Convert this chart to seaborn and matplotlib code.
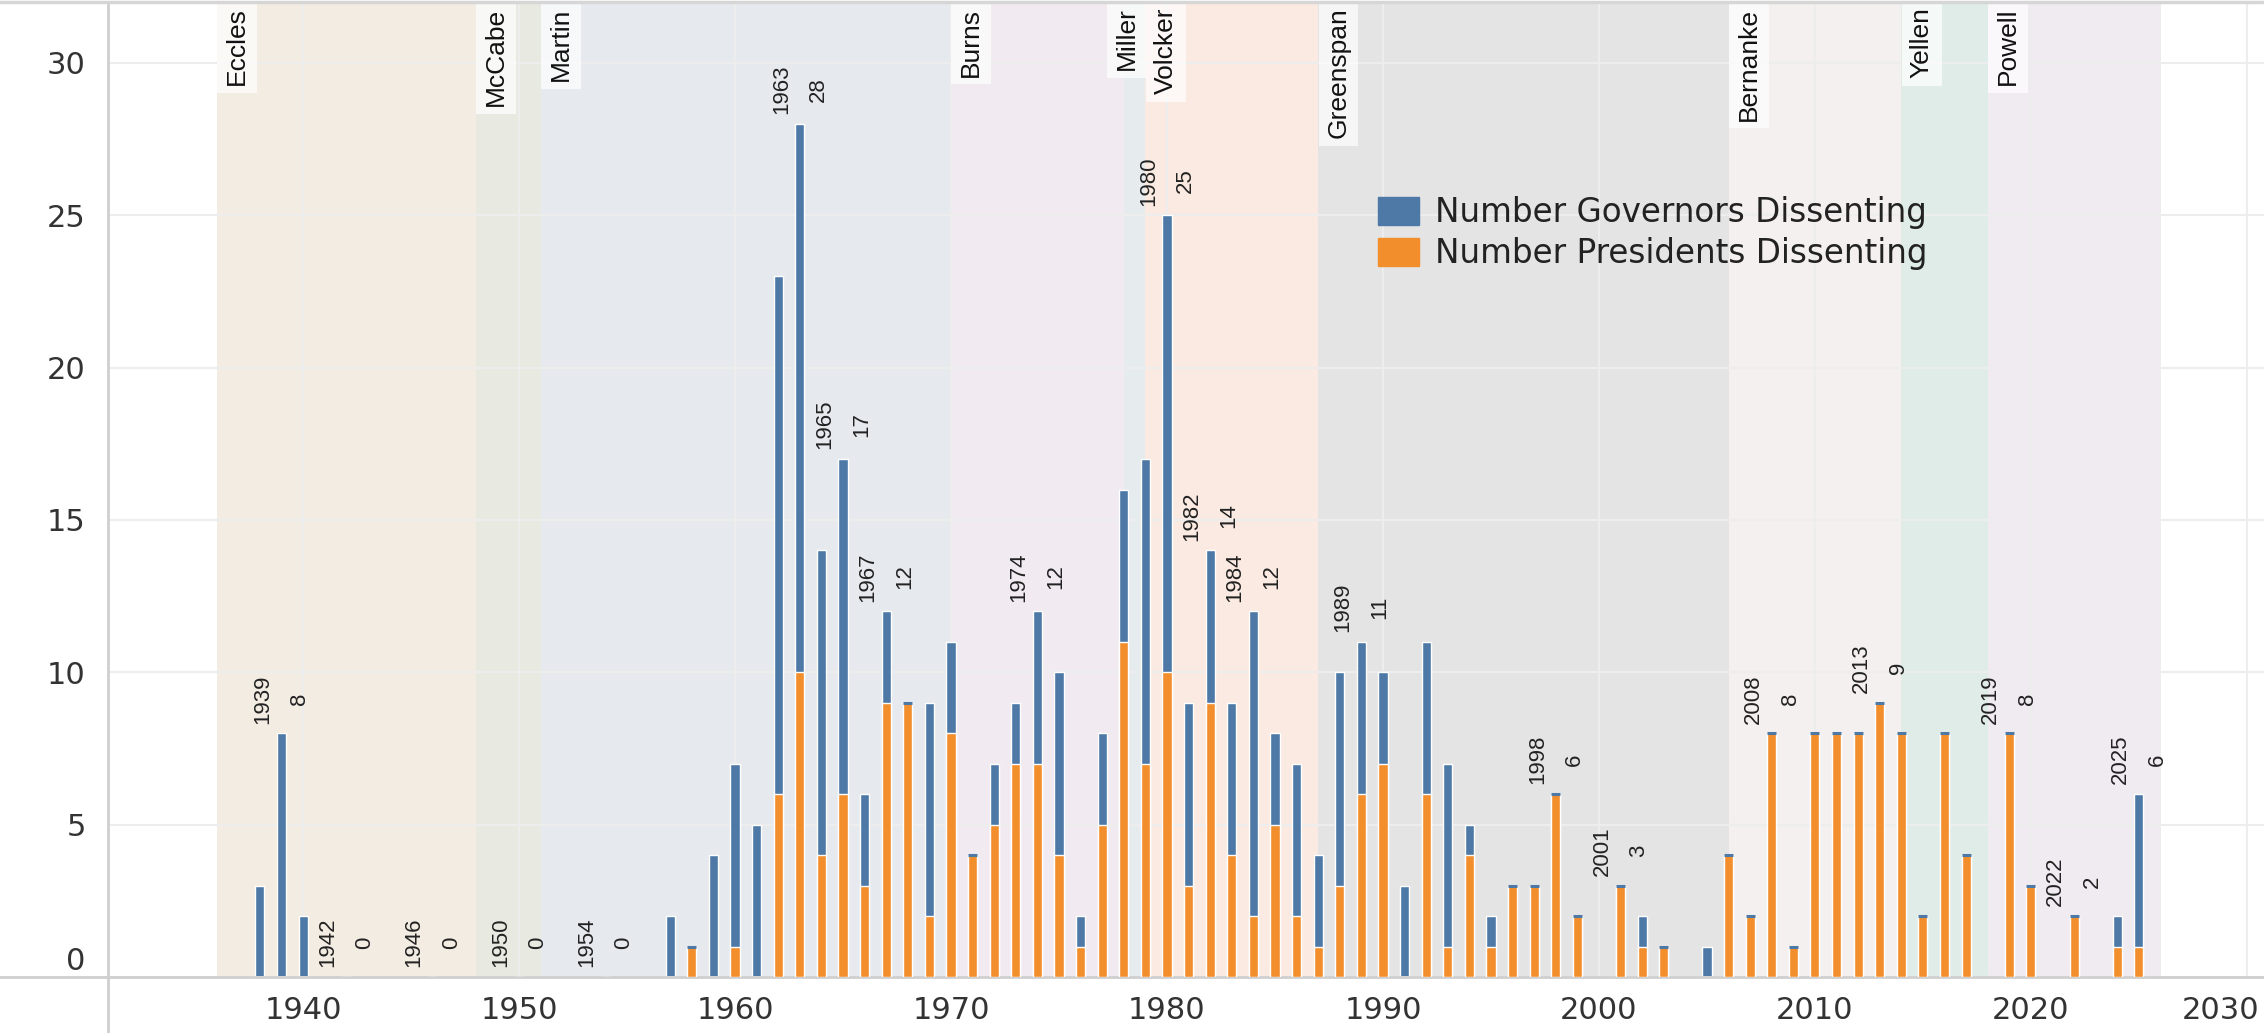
import matplotlib.pyplot as plt
import matplotlib.transforms as mtransforms
from matplotlib.patches import Patch
from matplotlib.lines import Line2D
import seaborn as sns
import pandas as pd

# ---------------- data ----------------
years = [1938, 1939, 1940, 1942, 1946, 1950, 1954, 1957, 1958, 1959,
         1960, 1961, 1962, 1963, 1964, 1965, 1966, 1967, 1968, 1969,
         1970, 1971, 1972, 1973, 1974, 1975, 1976, 1977, 1978, 1979,
         1980, 1981, 1982, 1983, 1984, 1985, 1986, 1987, 1988, 1989,
         1990, 1991, 1992, 1993, 1994, 1995, 1996, 1997, 1998, 1999,
         2001, 2002, 2003, 2005, 2006, 2007, 2008, 2009, 2010, 2011,
         2012, 2013, 2014, 2015, 2016, 2017, 2019, 2020, 2022, 2024, 2025]
governors = [3, 8, 2, 0, 0, 0, 0, 2, 0, 4,
             6, 5, 17, 18, 10, 11, 3, 3, 0, 7,
             3, 0, 2, 2, 5, 6, 1, 3, 5, 10,
             15, 6, 5, 5, 10, 3, 5, 3, 7, 5,
             3, 3, 5, 6, 1, 1, 0, 0, 0, 0,
             0, 1, 0, 1, 0, 0, 0, 0, 0, 0,
             0, 0, 0, 0, 0, 0, 0, 0, 0, 1, 5]
presidents = [0, 0, 0, 0, 0, 0, 0, 0, 1, 0,
              1, 0, 6, 10, 4, 6, 3, 9, 9, 2,
              8, 4, 5, 7, 7, 4, 1, 5, 11, 7,
              10, 3, 9, 4, 2, 5, 2, 1, 3, 6,
              7, 0, 6, 1, 4, 1, 3, 3, 6, 2,
              3, 1, 1, 0, 4, 2, 8, 1, 8, 8,
              8, 9, 8, 2, 8, 4, 8, 3, 2, 1, 1]

labelled_years = [1939, 1942, 1946, 1950, 1954, 1963, 1965, 1967, 1974, 1980,
                  1982, 1984, 1989, 1998, 2001, 2008, 2013, 2019, 2022, 2025]

chairs = ['Eccles', 'McCabe', 'Martin', 'Burns', 'Miller', 'Volcker',
          'Greenspan', 'Bernanke', 'Yellen', 'Powell']
chair_start = [1936, 1948, 1951, 1970, 1978, 1979, 1987, 2006, 2014, 2018]
chair_end = [1948, 1951, 1970, 1978, 1979, 1987, 2006, 2014, 2018, 2026]
chair_colors = ['#F3ECE2', '#E8E9E1', '#E6EAEE', '#F1EBF1', '#E6ECEE',
                '#FAEAE1', '#E4E4E4', '#F4F0EF', '#DFECE8', '#F0EAF1']

BLUE = '#4E79A7'
ORANGE = '#F28E2B'

df = pd.DataFrame({'year': years, 'gov': governors, 'pres': presidents})
df['total'] = df['gov'] + df['pres']

# ---------------- figure ----------------
sns.set_style('white')
plt.rcParams['font.family'] = ['DejaVu Sans']

W, H = 2264, 1033
fig = plt.figure(figsize=(W / 100, H / 100), dpi=100)
ax = fig.add_axes([108 / W, 56 / H, 1 - 108 / W, (H - 56 - 2) / H])

# chair shading + names (Miller is pushed left so it does not sit on Volcker)
for name, s, e, c in zip(chairs, chair_start, chair_end, chair_colors):
    ax.axvspan(s, e, color=c, lw=0, zorder=0.2)
    if name == 'Miller':
        x, ha, dx = e, 'right', -5
    else:
        x, ha, dx = s, 'left', 6
    ax.annotate(name, xy=(x, 1), xycoords=('data', 'axes fraction'),
                xytext=(dx, -4), textcoords='offset points',
                rotation=90, ha=ha, va='top', fontsize=19,
                family=['Liberation Sans', 'DejaVu Sans'], color='#111111',
                bbox=dict(boxstyle='square,pad=0.3', fc='white', ec='none', alpha=0.7),
                zorder=5)

# stacked bars: total in blue, presidents in orange on top
sns.barplot(data=df, x='year', y='total', native_scale=True, color=BLUE,
            saturation=1, width=0.42, errorbar=None, ax=ax, zorder=2)
sns.barplot(data=df, x='year', y='pres', native_scale=True, color=ORANGE,
            saturation=1, width=0.42, errorbar=None, ax=ax, zorder=3)

# thin governor cap on bars without governor dissents
caps = df[(df['gov'] == 0) & (df['pres'] > 0)]
ax.hlines(caps['total'], caps['year'] - 0.21, caps['year'] + 0.21,
          color=BLUE, lw=2.2, zorder=4)

# value labels
for _, r in df[df['year'].isin(labelled_years)].iterrows():
    ax.annotate(f"{int(r['year'])}\n{int(r['total'])}", xy=(r['year'], r['total']),
                xytext=(0, 7), textcoords='offset points', rotation=90,
                ha='center', va='bottom', multialignment='center',
                fontsize=16, linespacing=2.0, color='#222222',
                family=['Liberation Sans', 'DejaVu Sans'], zorder=6)

# axes
ax.set_xlim(1930.97, 2030.79)
ax.set_ylim(0, 32)
ax.set_xticks(range(1940, 2031, 10))
ax.set_yticks(range(0, 31, 5))
ax.set_xlabel('')
ax.set_ylabel('')
ax.grid(True, color='#EDEDED', lw=1.5)
ax.set_axisbelow(True)
ax.tick_params(axis='y', length=0, pad=16, labelsize=22, labelcolor='#333333')
ax.tick_params(axis='x', length=5, width=1.5, color='#DDDDDD', pad=9,
               labelsize=22, labelcolor='#333333')
for side in ['left', 'bottom']:
    ax.spines[side].set_color('#CFCFCF')
    ax.spines[side].set_linewidth(2)
ax.spines['right'].set_visible(False)
ax.spines['top'].set_visible(False)

# Tableau-style nudges: zero label up, last year label kept inside
zero_lab = ax.yaxis.get_major_ticks()[0].label1
zero_lab.set_transform(zero_lab.get_transform() +
                       mtransforms.ScaledTranslation(0, 0.18, fig.dpi_scale_trans))
last_lab = ax.xaxis.get_major_ticks()[-1].label1
last_lab.set_horizontalalignment('right')
last_lab.set_transform(last_lab.get_transform() +
                       mtransforms.ScaledTranslation(0.12, 0, fig.dpi_scale_trans))

# pane borders extending past the plot
fig.add_artist(Line2D([0, 108 / W], [56 / H, 56 / H], color='#CFCFCF', lw=2))
fig.add_artist(Line2D([108 / W, 108 / W], [0, 56 / H], color='#CFCFCF', lw=2))
fig.add_artist(Line2D([0, 1], [1 - 1.5 / H, 1 - 1.5 / H], color='#D6D6D6', lw=2.5))

# legend
handles = [Patch(color=BLUE, label='Number Governors Dissenting'),
           Patch(color=ORANGE, label='Number Presidents Dissenting')]
fig.legend(handles=handles, loc='upper left', bbox_to_anchor=(1362 / W, (H - 180) / H),
           frameon=False, fontsize=23.5, handlelength=1.25, handleheight=0.95,
           handletextpad=0.5, labelspacing=0.25, borderpad=0, labelcolor='#222222')

fig.savefig('out.png', dpi=100)
